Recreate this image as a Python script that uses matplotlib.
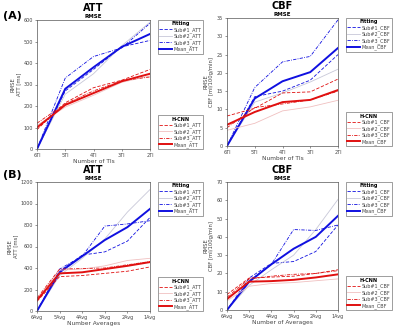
import matplotlib
matplotlib.use("Agg")
import matplotlib.pyplot as plt

# ── Dados ────────────────────────────────────────────────────
TI_LABELS = ["6TI", "5TI", "4TI", "3TI", "2TI"]
AVG_LABELS = ["6Avg", "5Avg", "4Avg", "3Avg", "2Avg", "1Avg"]

# (A) ATT  -- número de TIs
A_ATT_FIT_SUB1 = [0, 270, 370, 475, 505]
A_ATT_FIT_SUB2 = [0, 255, 350, 480, 590]
A_ATT_FIT_SUB3 = [0, 330, 430, 470, 585]
A_ATT_FIT_MEAN = [0, 280, 380, 475, 535]
A_ATT_CNN_SUB1 = [90, 215, 285, 320, 370]
A_ATT_CNN_SUB2 = [110, 195, 250, 310, 340]
A_ATT_CNN_SUB3 = [120, 210, 270, 318, 335]
A_ATT_CNN_MEAN = [100, 205, 260, 315, 350]

# (A) CBF
A_CBF_FIT_SUB1 = [0, 13.5, 15.0, 18.0, 25.0]
A_CBF_FIT_SUB2 = [0, 12.0, 14.5, 17.5, 21.0]
A_CBF_FIT_SUB3 = [0, 16.0, 23.0, 24.5, 34.5]
A_CBF_FIT_MEAN = [0, 13.0, 17.7, 20.2, 26.8]
A_CBF_CNN_SUB1 = [8.2, 10.3, 14.5, 14.8, 18.3]
A_CBF_CNN_SUB2 = [4.3, 6.2, 9.6, 10.7, 12.5]
A_CBF_CNN_SUB3 = [5.0, 10.5, 11.5, 12.6, 15.0]
A_CBF_CNN_MEAN = [5.8, 9.3, 12.0, 12.6, 15.3]

# (B) ATT  -- número de médias
B_ATT_FIT_SUB1 = [0, 370, 520, 550, 650, 870]
B_ATT_FIT_SUB2 = [0, 330, 490, 670, 920, 1130]
B_ATT_FIT_SUB3 = [0, 390, 510, 790, 810, 840]
B_ATT_FIT_MEAN = [0, 360, 510, 660, 780, 950]
B_ATT_CNN_SUB1 = [90, 320, 330, 350, 370, 410]
B_ATT_CNN_SUB2 = [110, 380, 390, 420, 470, 490]
B_ATT_CNN_SUB3 = [120, 390, 395, 400, 430, 460]
B_ATT_CNN_MEAN = [100, 350, 360, 390, 420, 455]

# (B) CBF
B_CBF_FIT_SUB1 = [0, 17.5, 25.5, 26.5, 32.0, 46.5]
B_CBF_FIT_SUB2 = [0, 13.5, 22.0, 30.0, 44.0, 60.5]
B_CBF_FIT_SUB3 = [0, 16.0, 25.0, 44.0, 43.5, 46.5]
B_CBF_FIT_MEAN = [0, 15.5, 25.0, 33.5, 40.0, 51.5]
B_CBF_CNN_SUB1 = [8.5, 17.5, 18.0, 18.5, 20.0, 22.0]
B_CBF_CNN_SUB2 = [5.0, 13.0, 14.5, 15.0, 16.0, 17.0]
B_CBF_CNN_SUB3 = [7.0, 17.0, 18.5, 19.5, 20.0, 21.5]
B_CBF_CNN_MEAN = [6.0, 15.5, 15.8, 16.5, 17.8, 19.5]

BLUE = "#1010e0"
BLUE_LIGHT = "#c8c8d8"
RED = "#e01010"
RED_LIGHT = "#f0c0c0"

plt.rcParams["font.family"] = "DejaVu Sans"


def painel(fig, rect, leg_x, labels, fit, cnn, titulo, ylim, yticks,
           ylabel, xlabel, sufixo):
    ax = fig.add_axes(rect)
    x = list(range(len(labels)))
    f1, f2, f3, fm = fit
    c1, c2, c3, cm = cnn
    l_fit = [
        ax.plot(x, f1, color=BLUE, ls=(0, (4, 2)), lw=0.6)[0],
        ax.plot(x, f2, color=BLUE_LIGHT, ls="-", lw=0.6)[0],
        ax.plot(x, f3, color=BLUE, ls=(0, (4, 1.5, 1, 1.5)), lw=0.6)[0],
        ax.plot(x, fm, color=BLUE, ls="-", lw=1.4)[0],
    ]
    l_cnn = [
        ax.plot(x, c1, color=RED, ls=(0, (4, 2)), lw=0.6)[0],
        ax.plot(x, c2, color=RED_LIGHT, ls="-", lw=0.6)[0],
        ax.plot(x, c3, color=RED, ls=(0, (4, 1.5, 1, 1.5)), lw=0.6)[0],
        ax.plot(x, cm, color=RED, ls="-", lw=1.4)[0],
    ]
    ax.set_xlim(0, len(labels) - 1)
    ax.set_ylim(*ylim)
    ax.set_yticks(yticks)
    ax.set_xticks(x)
    ax.set_xticklabels(labels)
    ax.tick_params(labelsize=3.5, length=1.5, width=0.4, pad=1.5,
                   colors="#444444", labelcolor="#444444")
    for s in ax.spines.values():
        s.set_linewidth(0.5)
        s.set_color("#555555")
    ax.set_xlabel(xlabel, fontsize=4.2, labelpad=0.5, color="#444444")
    ax.set_ylabel(ylabel, fontsize=3.8, labelpad=1.5, color="#444444")
    ax.set_title("RMSE", fontsize=4, fontweight="bold", pad=1.5)
    ax.text(0.5, 1.055, titulo, transform=ax.transAxes, ha="center",
            va="bottom", fontsize=7, fontweight="bold")

    nomes = [f"Sub#1_{sufixo}", f"Sub#2_{sufixo}", f"Sub#3_{sufixo}",
             f"Mean_{sufixo}"]
    kw = dict(fontsize=3.5, title_fontsize=3.5, frameon=True, fancybox=False,
              handlelength=2.6, handletextpad=0.4, borderpad=0.3,
              labelspacing=0.15, borderaxespad=0)
    leg1 = ax.legend(l_fit, nomes, title="Fitting", loc="upper left",
                     bbox_to_anchor=(leg_x, 1.0), **kw)
    leg2 = ax.legend(l_cnn, nomes, title="H-CNN", loc="lower left",
                     bbox_to_anchor=(leg_x, 0.0), **kw)
    for lg in (leg1, leg2):
        lg.get_frame().set_linewidth(0.5)
        lg.get_frame().set_edgecolor("#555555")
        lg.get_title().set_fontweight("bold")
        for t in lg.get_texts():
            t.set_color("#444444")
    ax.add_artist(leg1)
    return ax


fig = plt.figure(figsize=(4.0, 3.28), dpi=100)
W, H = 400, 328


def rect(x0, y0, x1, y1):
    return [x0 / W, 1 - y1 / H, (x1 - x0) / W, (y1 - y0) / H]


painel(fig, rect(37, 20, 150, 149), 1.07, TI_LABELS,
       (A_ATT_FIT_SUB1, A_ATT_FIT_SUB2, A_ATT_FIT_SUB3, A_ATT_FIT_MEAN),
       (A_ATT_CNN_SUB1, A_ATT_CNN_SUB2, A_ATT_CNN_SUB3, A_ATT_CNN_MEAN),
       "ATT", (0, 600), range(0, 601, 100), "RMSE\nATT [ms]",
       "Number of TIs", "ATT")
painel(fig, rect(227, 18, 338, 146), 1.07, TI_LABELS,
       (A_CBF_FIT_SUB1, A_CBF_FIT_SUB2, A_CBF_FIT_SUB3, A_CBF_FIT_MEAN),
       (A_CBF_CNN_SUB1, A_CBF_CNN_SUB2, A_CBF_CNN_SUB3, A_CBF_CNN_MEAN),
       "CBF", (0, 35), range(0, 36, 5), "RMSE\nCBF [ml/100g/min]",
       "Number of TIs", "CBF")
painel(fig, rect(37, 182, 150, 311), 1.07, AVG_LABELS,
       (B_ATT_FIT_SUB1, B_ATT_FIT_SUB2, B_ATT_FIT_SUB3, B_ATT_FIT_MEAN),
       (B_ATT_CNN_SUB1, B_ATT_CNN_SUB2, B_ATT_CNN_SUB3, B_ATT_CNN_MEAN),
       "ATT", (0, 1200), range(0, 1201, 200), "RMSE\nATT [ms]",
       "Number Averages", "ATT")
painel(fig, rect(227, 182, 338, 310), 1.07, AVG_LABELS,
       (B_CBF_FIT_SUB1, B_CBF_FIT_SUB2, B_CBF_FIT_SUB3, B_CBF_FIT_MEAN),
       (B_CBF_CNN_SUB1, B_CBF_CNN_SUB2, B_CBF_CNN_SUB3, B_CBF_CNN_MEAN),
       "CBF", (0, 70), range(0, 71, 10), "RMSE\nCBF [ml/100g/min]",
       "Number of Averages", "CBF")

fig.text(3 / W, 1 - 16 / H, "(A)", fontsize=8, fontweight="bold",
         va="center")
fig.text(3 / W, 1 - 175 / H, "(B)", fontsize=8, fontweight="bold",
         va="center")

fig.savefig("out.png", dpi=100)
